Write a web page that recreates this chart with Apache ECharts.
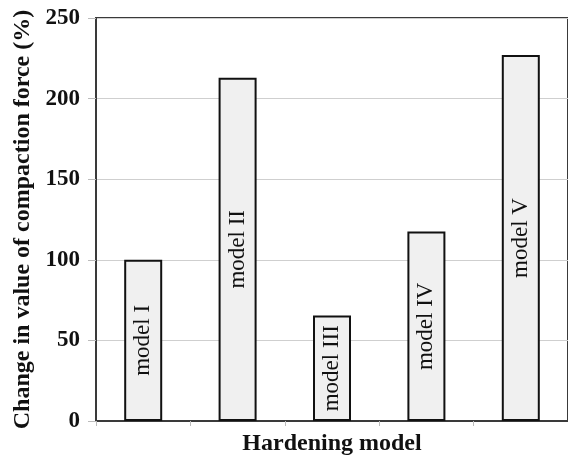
<!DOCTYPE html>
<html><head><meta charset="utf-8">
<script src="https://cdn.jsdelivr.net/npm/echarts@6/dist/echarts.min.js"></script>
<style>html,body{margin:0;padding:0;background:#fff}#c{width:568px;height:461px}</style>
</head><body><div id="c"></div>
<script>
var categories = ['model I', 'model II', 'model III', 'model IV', 'model V'];
var values = [100, 213, 65.5, 117.5, 227];
var yTicks = [0, 50, 100, 150, 200, 250];

var chart = echarts.init(document.getElementById('c'), null, {renderer: 'canvas'});
var font = '"Liberation Serif", "Times New Roman", serif';
chart.setOption({
  animation: false,
  backgroundColor: '#fff',
  grid: {left: 96, top: 18, width: 474, height: 405, show: true, borderColor: '#3a3a3a', borderWidth: 2, backgroundColor: 'transparent'},
  xAxis: {
    type: 'category', data: categories,
    name: 'Hardening model', nameLocation: 'middle', nameGap: 11,
    nameTextStyle: {fontFamily: font, fontWeight: 'bold', fontSize: 24, color: '#111'},
    axisLine: {show: true, lineStyle: {color: '#3a3a3a', width: 2}},
    axisTick: {show: true, length: 5, lineStyle: {color: '#bbb', width: 1}},
    axisLabel: {show: false}
  },
  yAxis: {
    type: 'value', min: yTicks[0], max: yTicks[yTicks.length - 1], interval: 50,
    name: 'Change in value of compaction force (%)', nameLocation: 'middle', nameGap: 58,
    nameTextStyle: {fontFamily: font, fontWeight: 'bold', fontSize: 24, color: '#111'},
    axisLine: {show: true, lineStyle: {color: '#3a3a3a', width: 2}},
    axisTick: {show: true, length: 8, lineStyle: {color: '#bbb', width: 1}},
    axisLabel: {fontFamily: font, fontWeight: 'bold', fontSize: 23, color: '#111', margin: 16},
    splitLine: {lineStyle: {color: '#cfcfcf', width: 1}}
  },
  series: [{
    type: 'bar', data: values, barWidth: 38,
    itemStyle: {color: '#f0f0f0', borderColor: '#111', borderWidth: 2},
    label: {show: true, position: 'inside', rotate: 90, formatter: '{b}',
      fontFamily: font, fontSize: 23, color: '#111'}
  }]
});
</script></body></html>
